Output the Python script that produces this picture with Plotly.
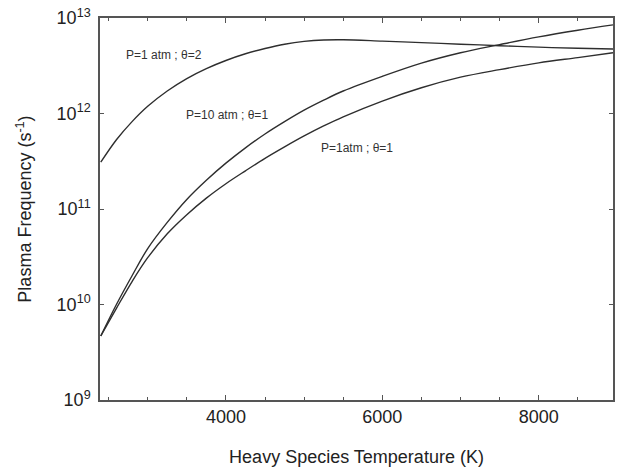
import math
import plotly.graph_objects as go

# Heavy species temperature (K)
temperature = [2400, 2600, 2800, 3000, 3250, 3500, 3750, 4000, 4250, 4500, 4750,
               5000, 5250, 5500, 6000, 6500, 7000, 7500, 8000, 8500, 8950]

# Plasma frequency (s^-1)
freq_p1_theta2 = [3.09e11, 5.31e11, 8.22e11, 1.19e12, 1.72e12, 2.32e12, 2.95e12, 3.59e12, 4.22e12,
                  4.79e12, 5.31e12, 5.69e12, 5.89e12, 5.92e12, 5.73e12, 5.52e12, 5.32e12,
                  5.13e12, 4.95e12, 4.82e12, 4.73e12]
freq_p10_theta1 = [4.68e9, 1.0e10, 2.0e10, 3.85e10, 7.24e10, 1.26e11, 2.0e11, 3.02e11, 4.37e11,
                   6.1e11, 8.22e11, 1.084e12, 1.38e12, 1.72e12, 2.45e12, 3.37e12, 4.33e12,
                   5.27e12, 6.35e12, 7.45e12, 8.47e12]
freq_p1_theta1 = [4.68e9, 9.12e9, 1.74e10, 3.09e10, 5.5e10, 8.71e10, 1.30e11, 1.84e11, 2.51e11,
                  3.39e11, 4.47e11, 5.82e11, 7.41e11, 9.23e11, 1.35e12, 1.86e12, 2.40e12,
                  2.88e12, 3.39e12, 3.85e12, 4.32e12]

labels = ["P=1 atm ; θ=2", "P=10 atm ; θ=1", "P=1atm ; θ=1"]
label_x = [3210, 4010, 5680]
label_y = [4.1e12, 9.6e11, 4.35e11]

y_tickvals = [1e9, 1e10, 1e11, 1e12, 1e13]
y_ticktext = ["10<sup>9</sup>", "10<sup>10</sup>", "10<sup>11</sup>", "10<sup>12</sup>", "10<sup>13</sup>"]
x_tickvals = [4000, 6000, 8000]

fig = go.Figure()
for ys in (freq_p1_theta2, freq_p10_theta1, freq_p1_theta1):
    fig.add_trace(go.Scatter(x=temperature, y=ys, mode="lines",
                             line=dict(color="#2e2e2e", width=1.4, shape="spline", smoothing=1.0),
                             showlegend=False, hoverinfo="skip"))

for t, xv, yv in zip(labels, label_x, label_y):
    fig.add_annotation(x=xv, y=math.log10(yv), xref="x", yref="y", text=t, showarrow=False,
                       font=dict(family="Liberation Sans, Arial", size=12, color="#333333"))

axis_font = dict(family="Liberation Sans, Arial", size=18, color="#222222")
fig.update_layout(
    width=617, height=470,
    margin=dict(l=100, r=4, t=18, b=70),
    paper_bgcolor="white", plot_bgcolor="white",
    font=axis_font,
    xaxis=dict(range=[2390, 8950], tickvals=x_tickvals, ticks="inside", ticklen=5,
               tickcolor="#555555", showline=True, linecolor="#555555", linewidth=1.5,
               mirror="ticks", showgrid=False, zeroline=False, automargin=False,
               minor=dict(dtick=500, tick0=0, ticks="inside", ticklen=3, tickcolor="#555555"),
               tickfont=axis_font,
               title=dict(text="Heavy Species Temperature (K)", font=axis_font, standoff=24)),
    yaxis=dict(type="log", range=[9, 13], tickvals=y_tickvals, ticktext=y_ticktext,
               ticks="inside", ticklen=4, tickcolor="#555555", showline=True,
               linecolor="#555555", linewidth=1.5, mirror="ticks", showgrid=False,
               zeroline=False, tickfont=axis_font, automargin=False, ticklabelstandoff=4,
               title=dict(text="Plasma Frequency (s<sup>-1</sup>)", font=axis_font, standoff=20)),
)

fig.write_html("out.html", config={"displayModeBar": False},
               post_script="document.body.style.margin='0';")
